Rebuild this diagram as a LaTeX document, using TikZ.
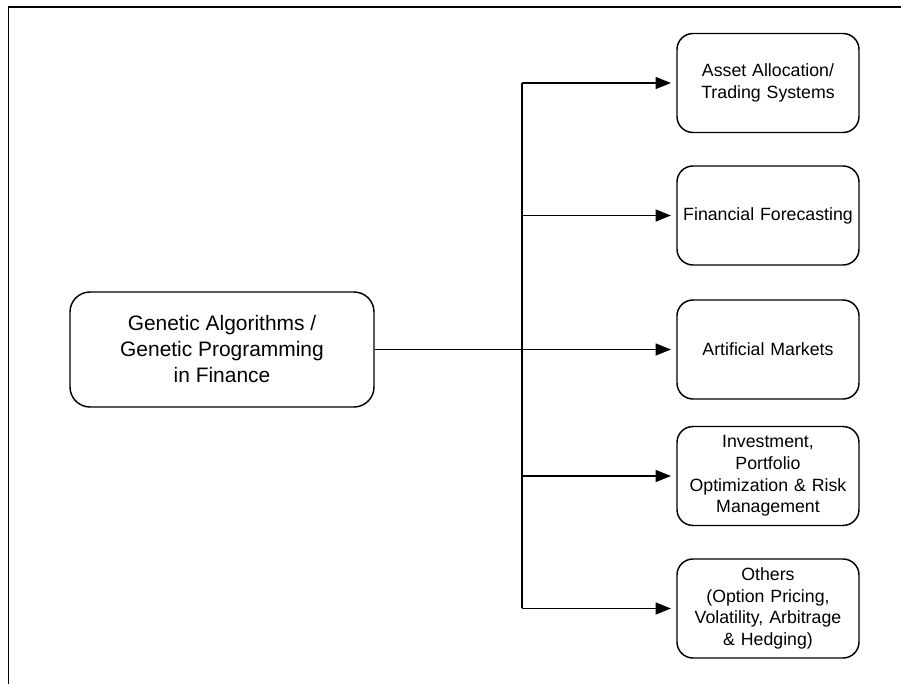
\documentclass[tikz,border=0pt]{standalone}
\usepackage{fontspec}
\setmainfont{Liberation Sans}
\usetikzlibrary{arrows.meta}
\begin{document}
\begin{tikzpicture}[x=0.75pt,y=-0.75pt,
  mainbox/.style={draw,line width=1.1pt,rounded corners=15pt,minimum width=304*0.75pt,minimum height=115*0.75pt,align=center,inner sep=2pt,font=\fontsize{15.7}{19.5}\selectfont},
  subbox/.style={draw,line width=1.1pt,rounded corners=12pt,minimum width=182*0.75pt,minimum height=99*0.75pt,text width=176*0.75pt,align=center,inner sep=2pt,font=\fontsize{13.3}{16.2}\selectfont},
  conn/.style={line width=1.1pt},
  arr/.style={conn,-{Triangle[length=11.5pt,width=9pt]},shorten >=4pt}]
\useasboundingbox (0,0) rectangle (901,684);
\draw[line width=1pt] (8.5,684) -- (8.5,7) -- (901,7);
\node[mainbox] (main) at (222,349.5) {Genetic Algorithms /\\Genetic Programming\\in Finance};
\node[subbox] (b1) at (768,83) {Asset Allocation/\\Trading Systems};
\node[subbox] (b2) at (768,215.5) {Financial Forecasting};
\node[subbox] (b3) at (768,349.5) {Artificial Markets};
\node[subbox] (b4) at (768,476) {Investment,\\Portfolio\\Optimization \& Risk\\Management};
\node[subbox] (b5) at (768,608.5) {Others\\(Option Pricing,\\Volatility, Arbitrage\\\& Hedging)};
\coordinate (t1) at (522,83);
\coordinate (t2) at (522,215.5);
\coordinate (t4) at (522,476);
\coordinate (t5) at (522,608.5);
\draw[conn] (t1) -- (t5);
\draw[arr] (main.east) -- (b3.west);
\draw[arr] (t1) -- (b1.west);
\draw[arr] (t2) -- (b2.west);
\draw[arr] (t4) -- (b4.west);
\draw[arr] (t5) -- (b5.west);
\end{tikzpicture}
\end{document}
